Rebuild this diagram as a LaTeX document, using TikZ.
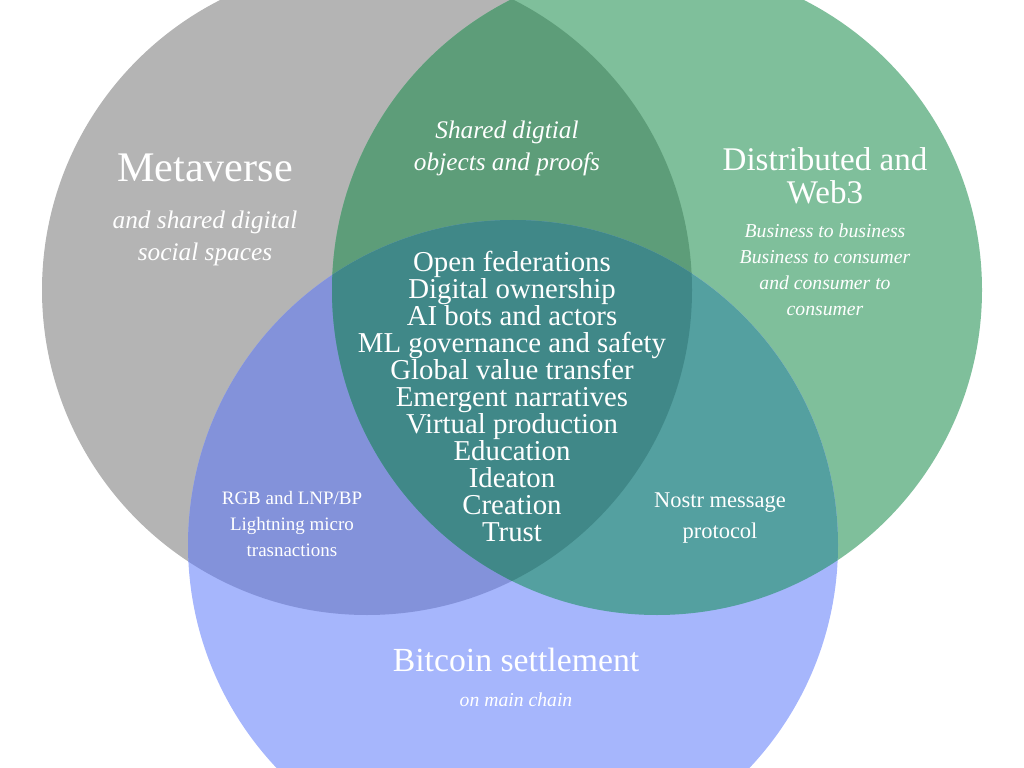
\documentclass[tikz,border=0pt]{standalone}
\usepackage{fontspec}
\setmainfont{Liberation Serif}
\usepackage{tikz}
\usetikzlibrary{positioning}
\definecolor{metagray}{RGB}{180,180,180}
\definecolor{webgreen}{RGB}{127,191,155}
\definecolor{btcblue}{RGB}{166,182,252}
\definecolor{metaweb}{RGB}{93,157,121}
\definecolor{metabtc}{RGB}{131,146,218}
\definecolor{webbtc}{RGB}{84,160,160}
\definecolor{core}{RGB}{64,136,136}
\tikzset{
  lbl/.style={text=white,align=center,inner sep=0pt},
  title/.style={lbl,font=\fontsize{#1}{#1}\selectfont},
  title/.default=24,
  sub/.style={lbl,font=\itshape\fontsize{18}{22.7}\selectfont},
  list/.style={lbl,font=\fontsize{20.5}{19.2}\selectfont},
}

\begin{document}
\begin{tikzpicture}
    \path[use as bounding box] (0,0) rectangle (25.6,-19.2);
    \clip (0,0) rectangle (25.6,-19.2);
    % circle centres
    \coordinate (mc) at (9.175,-7.25);
    \coordinate (wc) at (16.425,-7.25);
    \coordinate (bc) at (12.825,-13.625);
    \def\rad{8.125}
    \fill[metagray] (mc) circle (\rad);
    \fill[webgreen] (wc) circle (\rad);
    \fill[btcblue] (bc) circle (\rad);
    \begin{scope}
      \clip (mc) circle (\rad);
      \fill[metaweb] (wc) circle (\rad);
      \fill[metabtc] (bc) circle (\rad);
    \end{scope}
    \begin{scope}
      \clip (wc) circle (\rad);
      \fill[webbtc] (bc) circle (\rad);
    \end{scope}
    \begin{scope}
      \clip (mc) circle (\rad);
      \clip (wc) circle (\rad);
      \fill[core] (bc) circle (\rad);
    \end{scope}
    % labels
    \node[title=30] (meta) at (5.125,-4.2) {Metaverse};
    \node[sub] (metasub) at (5.125,-5.95) {and shared digital\\social spaces};
    \node[sub] (shared) at (12.675,-3.7) {Shared digtial\\objects and proofs};
    \node[lbl,font=\fontsize{23.5}{23.5}\selectfont] (web) at (20.625,-4.4) {Distributed and\\Web3};
    \node[lbl,font=\itshape\fontsize{14}{18.4}\selectfont] (websub) at (20.625,-6.74) {Business to business\\Business to consumer\\and consumer to\\consumer};
    \node[list] (mid) at (12.8,-9.92) {Open federations\\Digital ownership\\AI bots and actors\\ML governance and safety\\Global value transfer\\Emergent narratives\\Virtual production\\Education\\Ideaton\\Creation\\Trust};
    \node[lbl,font=\fontsize{13.5}{18.4}\selectfont] (rgb) at (7.3,-13.1) {RGB and LNP/BP\\Lightning micro\\trasnactions};
    \node[lbl,font=\fontsize{16}{22}\selectfont] (nostr) at (18.0,-12.96) {Nostr message\\protocol};
    \node[title] (btc) at (12.9,-16.5) {Bitcoin settlement};
    \node[lbl,font=\itshape\fontsize{14}{14}\selectfont] (btcsub) at (12.9,-17.5) {on main chain};
\end{tikzpicture}
\end{document}
